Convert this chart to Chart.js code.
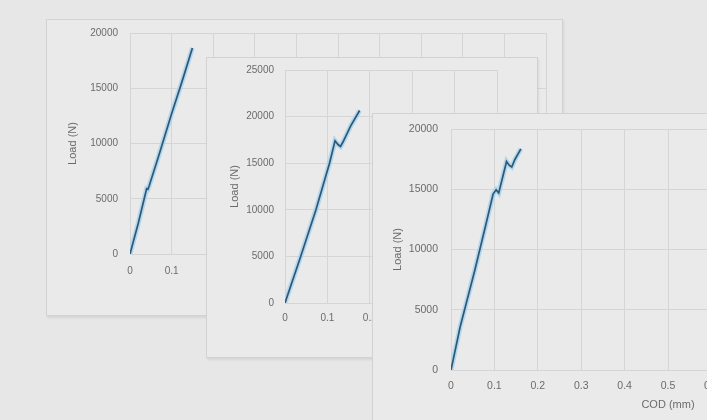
<!DOCTYPE html>
<html>
<head>
<meta charset="utf-8">
<script src="https://cdn.jsdelivr.net/npm/chart.js@4.4.1/dist/chart.umd.min.js"></script>
<style>
  html, body { margin: 0; padding: 0; }
  body { width: 707px; height: 420px; overflow: hidden; background: #e7e7e7; position: relative; }
  .panel { position: absolute; background: #eaeaea; border: 1px solid #d2d2d2; box-shadow: 1px 2px 2px rgba(0,0,0,0.08); }
  .panel canvas { display: block; filter: blur(0.45px); }
</style>
</head>
<body>
<div class="panel"><canvas id="c1"></canvas></div>
<div class="panel"><canvas id="c2"></canvas></div>
<div class="panel"><canvas id="c3"></canvas></div>
<script>
// ===== DATA (COD in mm, load in N) =====
const codA  = [0, 0.020, 0.040, 0.043, 0.046, 0.070, 0.100, 0.125, 0.150];
const loadA = [0, 2800, 5900, 5850, 6150, 9000, 12700, 15600, 18650];

const codB  = [0, 0.037, 0.073, 0.105, 0.118, 0.125, 0.131, 0.137, 0.155, 0.176];
const loadB = [0, 5000, 10000, 15000, 17400, 17000, 16800, 17300, 19000, 20650];

const codC  = [0, 0.021, 0.055, 0.079, 0.097, 0.104, 0.110, 0.128, 0.134, 0.140, 0.147, 0.161];
const loadC = [0, 3570, 8300, 11870, 14600, 14950, 14700, 17300, 17000, 16850, 17450, 18350];

const xTitle = "COD (mm)";
const yTitle = "Load (N)";

// ===== LAYOUT =====
const panels = [
  { id: "c1", cod: codA, load: loadA, xMax: 1.0, yMax: 20000, yStep: 5000, showXTitle: true,
    box: { x: 46, y: 19, w: 517, h: 297 }, plot: { l: 130, t: 33, r: 546, b: 254 },
    yTitleX: 73, xTitleY: 292, font: 10, xPad: 11, yPad: 12 },
  // its x title sits under panel 3 in the picture
  { id: "c2", cod: codB, load: loadB, xMax: 0.5, yMax: 25000, yStep: 5000, showXTitle: false,
    box: { x: 206, y: 57, w: 332, h: 301 }, plot: { l: 285, t: 70, r: 497, b: 303 },
    yTitleX: 235, xTitleY: 340, font: 10, xPad: 9, yPad: 11 },
  { id: "c3", cod: codC, load: loadC, xMax: 1.0, yMax: 20000, yStep: 5000, showXTitle: true,
    box: { x: 372, y: 113, w: 533, h: 320 }, plot: { l: 451, t: 129, r: 885, b: 370 },
    yTitleX: 398, xTitleY: 405, font: 10.5, xPad: 10, yPad: 13 }
];

function makePanel(p) {
  const canvas = document.getElementById(p.id);
  const div = canvas.parentNode;
  div.style.left = p.box.x + "px";
  div.style.top = p.box.y + "px";
  div.style.width = (p.box.w - 2) + "px";
  div.style.height = (p.box.h - 2) + "px";
  const cw = p.box.w - 2, ch = p.box.h - 2;
  const ox = p.box.x + 1, oy = p.box.y + 1;
  canvas.width = cw; canvas.height = ch;
  canvas.style.width = cw + "px"; canvas.style.height = ch + "px";

  // work out paddings so the plot area lands where it is in the picture
  const titleOff = 4 + 11 * 0.6;
  const want = { l: p.plot.l - ox, t: p.plot.t - oy, r: p.plot.r - ox, b: p.plot.b - oy };
  const pad = { left: p.yTitleX - ox - titleOff, top: want.t, right: cw - want.r, bottom: 0 };
  const yWidth = want.l - pad.left;
  const xHeight = p.xTitleY + titleOff - p.plot.b;
  pad.bottom = ch - want.b - xHeight;

  const pts = p.cod.map((c, i) => ({ x: c, y: p.load[i] }));
  const txt = "#6b6b6b";
  const grid = "#d5d5d5";
  const fnt = { family: "'Liberation Sans', Arial, sans-serif", size: p.font };
  const tfnt = { family: "'Liberation Sans', Arial, sans-serif", size: 11 };

  new Chart(canvas.getContext("2d"), {
    type: "scatter",
    data: {
      datasets: [
        { data: pts, showLine: true, borderColor: "#2e5877", borderWidth: 1.7, pointRadius: 0, tension: 0 },
        { data: pts, showLine: true, borderColor: "rgba(160,208,238,0.75)", borderWidth: 5, pointRadius: 0, tension: 0 }
      ]
    },
    options: {
      responsive: false,
      animation: false,
      layout: { padding: pad, autoPadding: false },
      plugins: { legend: { display: false }, tooltip: { enabled: false } },
      scales: {
        x: {
          type: "linear", min: 0, max: p.xMax,
          ticks: { stepSize: 0.1, autoSkip: false, maxRotation: 0, color: txt, font: fnt, padding: p.xPad,
                   callback: v => String(+v.toFixed(1)) },
          grid: { color: grid, drawTicks: false },
          border: { color: grid },
          title: { display: p.showXTitle, text: xTitle, color: txt, font: tfnt },
          afterFit: s => { s.height = xHeight; s.paddingLeft = 0; s.paddingRight = 0; }
        },
        y: {
          type: "linear", min: 0, max: p.yMax,
          ticks: { stepSize: p.yStep, color: txt, font: fnt, padding: p.yPad, callback: v => String(v) },
          grid: { color: grid, drawTicks: false },
          border: { color: grid },
          title: { display: true, text: yTitle, color: txt, font: tfnt },
          afterFit: s => { s.width = yWidth; s.paddingTop = 0; s.paddingBottom = 0; }
        }
      }
    }
  });
}

panels.forEach(makePanel);
</script>
</body>
</html>
